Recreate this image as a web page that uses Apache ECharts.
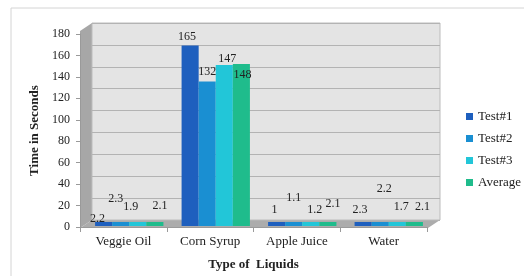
<!DOCTYPE html>
<html>
<head>
<meta charset="utf-8">
<script src="https://cdn.jsdelivr.net/npm/echarts@6/dist/echarts.min.js"></script>
<style>
    html, body { margin: 0; padding: 0; background: #fff; }
    #chart { width: 524px; height: 276px; }
</style>
</head>
<body>
<div id="chart"></div>
<script>
    // data
    var liquids = ['Veggie Oil', 'Corn Syrup', 'Apple Juice', 'Water'];
    var seriesNames = ['Test#1', 'Test#2', 'Test#3', 'Average'];
    var test1 = [2.2, 165, 1, 2.3];
    var test2 = [2.3, 132, 1.1, 2.2];
    var test3 = [1.9, 147, 1.2, 1.7];
    var average = [2.1, 148, 2.1, 2.1];
    var yTicks = [0, 180, 20];

    var colors = ['#1e5fbe', '#1a8fd2', '#22c6d8', '#1fbc8c'];
    // label nudges, the original labels were moved by hand
    var labelOffsets = [
        [[-6, 7], [-3, 1], [-2, -2], [-3, -2]],
        [[-5, -13], [0, 0], [0, -14], [4, -23]],
        [[-7, -5], [3, 4], [4, -2], [4, -5]],
        [[5, -6], [1, 21], [5, -8], [8, -5]]
    ];
    var font = 'Liberation Serif';

    function buildData(values, k) {
        return values.map(function (v, i) {
            return { value: v, label: { offset: labelOffsets[k][i] } };
        });
    }

    var allValues = [test1, test2, test3, average];
    var series = allValues.map(function (vals, k) {
        return {
            name: seriesNames[k],
            type: 'bar',
            xAxisIndex: 2,
            yAxisIndex: 2,
            barGap: '0%',
            barCategoryGap: '21%',
            barMinHeight: 4,
            itemStyle: { color: colors[k] },
            label: {
                show: true,
                position: 'top',
                distance: 4,
                color: '#222',
                fontFamily: font,
                fontSize: 12
            },
            data: buildData(vals, k)
        };
    });

    var myChart = echarts.init(document.getElementById('chart'));
    myChart.setOption({
        animation: false,
        textStyle: { fontFamily: font },
        graphic: [
            { type: 'rect', shape: { x: 11, y: 8, width: 600, height: 300 }, style: { fill: 'none', stroke: '#d4d4d4', lineWidth: 1 }, z: -10 },
            // side wall and floor of the 3d box
            { type: 'polygon', shape: { points: [[80, 31], [92, 23], [92, 220], [80, 228]] }, style: { fill: '#a7a7a7' }, z: -5 },
            { type: 'polygon', shape: { points: [[80, 228], [92, 220], [440, 220], [428, 228]] }, style: { fill: '#acacac' }, z: -5 }
        ],
        legend: {
            orient: 'vertical',
            left: 461,
            top: 105,
            icon: 'rect',
            itemWidth: 7,
            itemHeight: 7,
            itemGap: 9,
            textStyle: { fontFamily: font, fontSize: 13, color: '#222' },
            data: seriesNames
        },
        grid: [
            // back wall
            { left: 92, right: 84, top: 23, bottom: 56, show: true, backgroundColor: '#e4e4e4', borderColor: '#bcbcbc', borderWidth: 1 },
            // front edge with axes
            { left: 80, right: 97, top: 34, bottom: 48 },
            // bars
            { left: 86, right: 92, top: 29, bottom: 50 }
        ],
        xAxis: [
            { gridIndex: 0, type: 'category', data: liquids, show: false },
            {
                gridIndex: 1,
                type: 'category',
                data: liquids,
                name: 'Type of  Liquids',
                nameLocation: 'middle',
                nameGap: 31,
                nameTextStyle: { fontFamily: font, fontSize: 13, fontWeight: 'bold', color: '#222' },
                axisLine: { lineStyle: { color: '#9a9a9a' } },
                axisTick: { show: true, length: 5, lineStyle: { color: '#9a9a9a' } },
                axisLabel: { fontFamily: font, fontSize: 13, color: '#222', margin: 8 }
            },
            { gridIndex: 2, type: 'category', data: liquids, show: false }
        ],
        yAxis: [
            {
                gridIndex: 0,
                type: 'value',
                min: yTicks[0], max: yTicks[1], interval: yTicks[2],
                axisLine: { show: false },
                axisTick: { show: false },
                axisLabel: { show: false },
                splitLine: { lineStyle: { color: '#b3b3b3', width: 1 } }
            },
            {
                gridIndex: 1,
                type: 'value',
                min: yTicks[0], max: yTicks[1], interval: yTicks[2],
                name: 'Time in Seconds',
                nameLocation: 'middle',
                nameGap: 36,
                nameTextStyle: { fontFamily: font, fontSize: 13, fontWeight: 'bold', color: '#222' },
                axisLine: { show: true, lineStyle: { color: '#9a9a9a' } },
                axisTick: { show: true, length: 4, lineStyle: { color: '#9a9a9a' } },
                axisLabel: { fontFamily: font, fontSize: 12, color: '#222', margin: 10 },
                splitLine: { show: false }
            },
            { gridIndex: 2, type: 'value', min: yTicks[0], max: yTicks[1], show: false, splitLine: { show: false } }
        ],
        series: series
    });
</script>
</body>
</html>
